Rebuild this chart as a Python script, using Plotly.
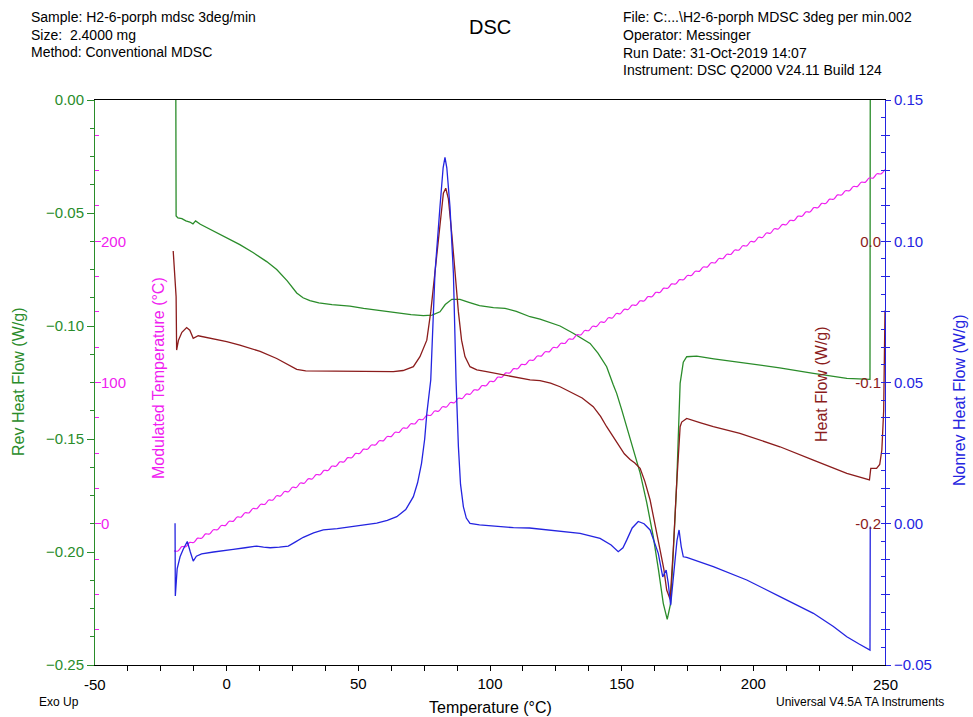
import plotly.graph_objects as go

# ---------------- data ----------------
rev_T = [-19.3, -19.2, -18.5, -17, -15.5, -14, -12.8, -11.8, -10, -5, 0, 5, 10, 15.2, 19, 23, 26.6, 29,
         31.6, 35, 40, 46.8, 52, 58.2, 65.8, 70, 74.7, 78, 81, 83, 85.5, 88.6, 92, 96, 101.3, 105.7, 110,
         115.2, 119, 123, 126.6, 131.6, 135, 138, 141, 144.3, 146.8, 148.1, 150, 151.9, 153.5, 155.7, 157,
         159.5, 162, 164, 165.8, 167.3, 168.6, 169.6, 170.9, 172.2, 173.4, 174.7, 178.5, 185, 197.5, 210,
         222.8, 235.5, 244.3, 244.4]
rev_hf = [0.0, -0.0513, -0.0522, -0.0525, -0.0535, -0.054, -0.0548, -0.0535, -0.055, -0.058, -0.061,
          -0.064, -0.0675, -0.0715, -0.075, -0.080, -0.0854, -0.0875, -0.0888, -0.0898, -0.0905, -0.0912,
          -0.0922, -0.0932, -0.0943, -0.0950, -0.0954, -0.0952, -0.0937, -0.0905, -0.0882, -0.0882, -0.0895,
          -0.0910, -0.0919, -0.0922, -0.0935, -0.0959, -0.0970, -0.0985, -0.100, -0.1032, -0.1055, -0.1077,
          -0.1120, -0.118, -0.1260, -0.1298, -0.137, -0.1445, -0.151, -0.1593, -0.1650, -0.178, -0.1932,
          -0.208, -0.2227, -0.2298, -0.2227, -0.200, -0.1696, -0.1254, -0.1160, -0.1136, -0.1133, -0.1145,
          -0.1165, -0.1185, -0.121, -0.1232, -0.1236, 0.0]

hf_T = [-20.3, -19.2, -19.0, -18.3, -17, -15.2, -14, -12.7, -10.8, -5, 0, 5, 10, 12.7, 19, 23, 26.6, 30,
        34.2, 45, 55, 63.3, 67, 70.9, 73.4, 76.0, 77.5, 79.1, 80.5, 82.3, 83.2, 84.2, 85.5, 86.7, 88, 89.2,
        90.5, 92.4, 95, 98.7, 105, 110, 115.2, 119, 123, 126.6, 131.6, 135, 139.2, 142, 144.3, 147, 149.4,
        151, 153.2, 155, 157.0, 158.8, 160.8, 162.5, 164.6, 166.0, 167.1, 168.4, 169.6, 170.9, 172.2,
        172.8, 174.7, 180, 184.8, 194.9, 210.1, 222.8, 235.5, 244.1, 244.6, 246.8, 248.0, 248.8, 249.5, 250]
hf = [-0.0069, -0.0393, -0.077, -0.070, -0.0645, -0.0611, -0.063, -0.0687, -0.0669, -0.0690, -0.071,
      -0.0735, -0.0765, -0.078, -0.083, -0.0870, -0.0907, -0.0918, -0.0918, -0.0922, -0.0923, -0.0923,
      -0.0915, -0.0888, -0.0817, -0.070, -0.050, -0.0227, 0.003, 0.034, 0.0375, 0.030, 0.005, -0.0227,
      -0.050, -0.070, -0.0817, -0.0888, -0.0910, -0.0923, -0.0945, -0.0962, -0.0982, -0.0987, -0.1005,
      -0.103, -0.1077, -0.1110, -0.1171, -0.124, -0.1313, -0.1390, -0.1455, -0.1505, -0.1545, -0.1570,
      -0.1608, -0.170, -0.1832, -0.198, -0.2186, -0.232, -0.2469, -0.2535, -0.2186, -0.1714, -0.1313,
      -0.1280, -0.1254, -0.1285, -0.1313, -0.136, -0.1455, -0.155, -0.1643, -0.169, -0.1608, -0.1608,
      -0.158, -0.1478, -0.120, -0.049]

nonrev_T = [-19.6, -19.5, -18.8, -17.7, -16.5, -14.95, -13.8, -12.7, -11.5, -9.5, -5, 0, 2.5, 7, 11.4, 14,
            16.5, 20, 23.4, 26, 29.1, 33, 36.7, 42, 48.1, 52, 57.0, 61, 64.6, 68, 70.9, 72.5, 74.0, 75.2,
            76.0, 77.5, 79.1, 81.0, 82.2, 82.9, 83.6, 84.8, 86.1, 87.1, 88.0, 88.8, 89.9, 91, 92.4, 96,
            101.3, 108.9, 115, 120, 126.6, 134.2, 141.8, 146, 148.7, 150.5, 151.9, 154, 156.3, 158.5, 160.8,
            163.9, 165.6, 166.9, 167.7, 168.6, 169.9, 171.0, 171.8, 172.6, 173.4, 174.7, 184.8, 197.5, 210.1,
            222.8, 230.4, 235.5, 240, 244.3, 244.4]
nonrev_hf = [0.0002, -0.0256, -0.016, -0.0117, -0.009, -0.0063, -0.0100, -0.0132, -0.0115, -0.0107,
             -0.0100, -0.0095, -0.0091, -0.0085, -0.0079, -0.0083, -0.0085, -0.0083, -0.0079, -0.0065,
             -0.0048, -0.0032, -0.0022, -0.0017, -0.0010, -0.0005, 0.0002, 0.0012, 0.0025, 0.0050, 0.0096,
             0.0145, 0.0214, 0.030, 0.039, 0.0509, 0.0887, 0.1122, 0.126, 0.1297, 0.126, 0.1122, 0.0887,
             0.0509, 0.0273, 0.014, 0.006, 0.002, 0.0001, -0.0004, -0.0008, -0.0014, -0.0015, -0.0020,
             -0.0028, -0.0034, -0.0052, -0.0075, -0.0099, -0.0085, -0.0058, -0.0015, 0.0008, 0.0000,
             -0.0022, -0.0105, -0.0188, -0.0164, -0.0211, -0.0288, -0.0164, -0.0060, -0.0022, -0.0080,
             -0.0117, -0.0119, -0.0152, -0.0199, -0.0258, -0.0317, -0.0364, -0.0400, -0.0425, -0.0447, -0.0010]

mod_T = [-20, -18.5, -17, -15.5, -14, -12.5, -11, -9.5, -8, -6.5, -5, -3.5, -2, -0.5, 1, 2.5, 4, 5.5, 7, 8.5,
         10, 11.5, 13, 14.5, 16, 17.5, 19, 20.5, 22, 23.5, 25, 26.5, 28, 29.5, 31, 32.5, 34, 35.5, 37, 38.5,
         40, 41.5, 43, 44.5, 46, 47.5, 49, 50.5, 52, 53.5, 55, 56.5, 58, 59.5, 61, 62.5, 64, 65.5, 67, 68.5,
         70, 71.5, 73, 74.5, 76, 77.5, 79, 80.5, 82, 83.5, 85, 86.5, 88, 89.5, 91, 92.5, 94, 95.5, 97, 98.5,
         100, 101.5, 103, 104.5, 106, 107.5, 109, 110.5, 112, 113.5, 115, 116.5, 118, 119.5, 121, 122.5,
         124, 125.5, 127, 128.5, 130, 131.5, 133, 134.5, 136, 137.5, 139, 140.5, 142, 143.5, 145, 146.5,
         148, 149.5, 151, 152.5, 154, 155.5, 157, 158.5, 160, 161.5, 163, 164.5, 166, 167.5, 169, 170.5,
         172, 173.5, 175, 176.5, 178, 179.5, 181, 182.5, 184, 185.5, 187, 188.5, 190, 191.5, 193, 194.5,
         196, 197.5, 199, 200.5, 202, 203.5, 205, 206.5, 208, 209.5, 211, 212.5, 214, 215.5, 217, 218.5,
         220, 221.5, 223, 224.5, 226, 227.5, 229, 230.5, 232, 233.5, 235, 236.5, 238, 239.5, 241, 242.5,
         244, 245.5, 247, 248.5, 250]
mod_temp = [-19.2, -19.3, -16.2, -16.3, -13.2, -13.3, -10.2, -10.3, -7.2, -7.3, -4.2, -4.3, -1.2, -1.3,
            1.8, 1.7, 4.8, 4.7, 7.8, 7.7, 10.8, 10.7, 13.8, 13.7, 16.8, 16.7, 19.8, 19.7, 22.8, 22.7,
            25.8, 25.7, 28.8, 28.7, 31.8, 31.7, 34.8, 34.7, 37.8, 37.7, 40.8, 40.7, 43.8, 43.7, 46.8, 46.7,
            49.8, 49.7, 52.8, 52.7, 55.8, 55.7, 58.8, 58.7, 61.8, 61.7, 64.8, 64.7, 67.8, 67.7, 70.8, 70.7,
            73.8, 73.7, 76.8, 76.7, 79.8, 79.7, 82.8, 82.7, 85.8, 85.7, 88.8, 88.7, 91.8, 91.7, 94.8, 94.7,
            97.8, 97.7, 100.8, 100.7, 103.8, 103.7, 106.8, 106.7, 109.8, 109.7, 112.8, 112.7, 115.8, 115.7,
            118.8, 118.7, 121.8, 121.7, 124.8, 124.7, 127.8, 127.7, 130.8, 130.7, 133.8, 133.7, 136.8, 136.7,
            139.8, 139.7, 142.8, 142.7, 145.8, 145.7, 148.8, 148.7, 151.8, 151.7, 154.8, 154.7, 157.8, 157.7,
            160.8, 160.7, 163.8, 163.7, 166.8, 166.7, 169.8, 169.7, 172.8, 172.7, 175.8, 175.7, 178.8, 178.7,
            181.8, 181.7, 184.8, 184.7, 187.8, 187.7, 190.8, 190.7, 193.8, 193.7, 196.8, 196.7, 199.8, 199.7,
            202.8, 202.7, 205.8, 205.7, 208.8, 208.7, 211.8, 211.7, 214.8, 214.7, 217.8, 217.7, 220.8, 220.7,
            223.8, 223.7, 226.8, 226.7, 229.8, 229.7, 232.8, 232.7, 235.8, 235.7, 238.8, 238.7, 241.8, 241.7,
            244.8, 244.7, 247.8, 247.7, 250.8]

x_ticks = [-50, 0, 50, 100, 150, 200, 250]
x_edge_labels = [-50, 250]
rev_ticks = [0.0, -0.05, -0.10, -0.15, -0.20, -0.25]
mod_ticks = [0, 100, 200]
hf_ticks = [0.0, -0.1, -0.2]
nonrev_ticks = [0.15, 0.10, 0.05, 0.00, -0.05]

# ---------------- styling ----------------
FONT = "Liberation Sans, Arial, sans-serif"
GREEN = "#2a8c2a"
MAGENTA = "#f020f0"
DRED = "#8b1c1c"
BLUE = "#2424e0"

W, H = 973, 717
L, R, T, B = 95, 885, 100, 665


def px(xp, yp):
    return (xp - L) / (R - L), (B - yp) / (B - T)


fig = go.Figure()
fig.add_trace(go.Scatter(x=mod_T, y=mod_temp, yaxis="y2", mode="lines", line=dict(color=MAGENTA, width=1.2, shape="spline")))
fig.add_trace(go.Scatter(x=rev_T, y=rev_hf, yaxis="y", mode="lines", line=dict(color=GREEN, width=1.3)))
fig.add_trace(go.Scatter(x=hf_T, y=hf, yaxis="y3", mode="lines", line=dict(color=DRED, width=1.3)))
fig.add_trace(go.Scatter(x=nonrev_T, y=nonrev_hf, yaxis="y4", mode="lines", line=dict(color=BLUE, width=1.3)))

common = dict(showgrid=False, zeroline=False)
fig.update_layout(
    width=W, height=H, margin=dict(l=L, r=W - R, t=T, b=H - B),
    paper_bgcolor="white", plot_bgcolor="white", showlegend=False,
    font=dict(family=FONT, size=14, color="black"),
    xaxis=dict(range=[-50, 250], tickvals=x_ticks, ticks="outside", ticklen=5, tickcolor="black",
               showline=True, linecolor="black", linewidth=1, mirror=True,
               tickfont=dict(size=15, color="black"),
               minor=dict(tickmode="linear", tick0=-50, dtick=12.5, ticks="outside", ticklen=5, tickcolor="black"),
               **common),
    yaxis=dict(range=[-0.25, 0.0], tickvals=rev_ticks, tickformat=".2f", ticks="outside", ticklen=7,
               tickcolor=GREEN, showline=True, linecolor=GREEN, linewidth=1,
               tickfont=dict(size=15, color=GREEN),
               minor=dict(tickmode="linear", tick0=0, dtick=0.0125, ticks="outside", ticklen=4, tickcolor=GREEN),
               **common),
    yaxis2=dict(range=[-100, 300], overlaying="y", side="left", anchor="x", tickvals=mod_ticks,
                ticks="inside", ticklen=6, tickcolor=MAGENTA, ticklabelposition="inside",
                tickfont=dict(size=15, color=MAGENTA), showline=False,
                minor=dict(tickmode="linear", tick0=0, dtick=25, ticks="inside", ticklen=4, tickcolor=MAGENTA),
                **common),
    yaxis3=dict(range=[-0.3, 0.1], overlaying="y", side="right", anchor="x", tickvals=hf_ticks,
                ticktext=["0.0", "-0.1", "-0.2"], ticks="inside", ticklen=4, tickcolor=BLUE,
                ticklabelposition="inside", tickfont=dict(size=15, color=DRED), showline=False,
                minor=dict(tickmode="linear", tick0=0, dtick=0.0125, ticks="inside", ticklen=4, tickcolor=BLUE),
                **common),
    yaxis4=dict(range=[-0.05, 0.15], overlaying="y", side="right", anchor="x", tickvals=nonrev_ticks,
                tickformat=".2f", ticks="outside", ticklen=5, tickcolor=BLUE, showline=True, linecolor=BLUE,
                linewidth=1, tickfont=dict(size=15, color=BLUE),
                minor=dict(tickmode="linear", tick0=0, dtick=0.0125, ticks="outside", ticklen=4, tickcolor=BLUE),
                **common),
)

ann = []


def text(s, xp, yp, size=14, color="black", xanchor="left", angle=0):
    x, y = px(xp, yp)
    ann.append(dict(text=s, x=x, y=y, xref="paper", yref="paper", xanchor=xanchor, yanchor="middle",
                    showarrow=False, textangle=angle, font=dict(family=FONT, size=size, color=color)))


# edge x tick labels (plotly hides them next to inside y tick labels)
for v in x_edge_labels:
    ann.append(dict(text=str(v), x=v, xref="x", y=(B - 684) / (B - T), yref="paper", xanchor="center",
                    yanchor="middle", showarrow=False, font=dict(family=FONT, size=15, color="black")))

text("Sample: H2-6-porph mdsc 3deg/min", 29, 17)
text("Size:  2.4000 mg", 29, 35)
text("Method: Conventional MDSC", 29, 52)
text("DSC", 490, 27, size=20, xanchor="center")
text("File: C:...\\H2-6-porph MDSC 3deg per min.002", 621, 17)
text("Operator: Messinger", 621, 35)
text("Run Date: 31-Oct-2019 14:07", 621, 53)
text("Instrument: DSC Q2000 V24.11 Build 124", 621, 70)
text("Exo Up", 37, 702, size=12)
text("Temperature (°C)", 490, 707, size=16, xanchor="center")
text("Universal V4.5A TA Instruments", 946, 702, size=12, xanchor="right")
text("Rev Heat Flow (W/g)", 18, 382, size=16, color=GREEN, xanchor="center", angle=-90)
text("Modulated Temperature (°C)", 158, 378, size=16, color=MAGENTA, xanchor="center", angle=-90)
text("Heat Flow (W/g)", 822, 384, size=16, color=DRED, xanchor="center", angle=-90)
text("Nonrev Heat Flow (W/g)", 960, 400, size=16, color=BLUE, xanchor="center", angle=-90)

fig.update_layout(annotations=ann)
fig.write_html("out.html")
